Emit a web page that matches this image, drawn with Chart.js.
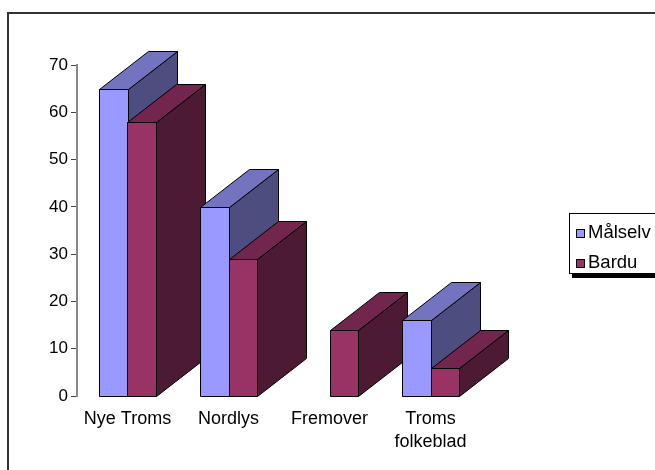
<!DOCTYPE html>
<html>
<head>
<meta charset="utf-8">
<script src="https://cdn.jsdelivr.net/npm/chart.js@4"></script>
<style>
  html, body { margin: 0; padding: 0; background: #fff; overflow: hidden; }
  #frame { position: absolute; left: 7px; top: 12px; width: 700px; height: 520px; border: 2px solid #333; box-sizing: border-box; }
  #chart { position: absolute; left: 0; top: 0; }
  #legend { position: absolute; left: 569px; top: 213px; width: 120px; height: 61px; border: 1px solid #000; background: #fff;
            box-shadow: 3px 4px 0 #000; font: 18.5px "Liberation Sans", Arial, sans-serif; color: #000; box-sizing: border-box; }
  .item { position: absolute; left: 6px; height: 20px; line-height: 20px; white-space: nowrap; }
  .sw { display: inline-block; width: 7px; height: 7px; border: 1px solid #000; margin-right: 3px; vertical-align: 0px; }
</style>
</head>
<body>
<div id="frame"></div>
<canvas id="chart" width="655" height="470"></canvas>
<div id="legend"></div>
<script>
// dados do gráfico
const categories = ['Nye Troms', 'Nordlys', 'Fremover', ['Troms', 'folkeblad']];
const seriesNames = ['Målselv', 'Bardu'];
const malselv = [65, 40, null, 16];
const bardu = [58, 29, 14, 6];
const yMax = 70;
const yStep = 10;

// cores: frente, topo, lado
const faces = [
  { front: '#9999ff', top: '#7373bf', side: '#4d4d80' },
  { front: '#993366', top: '#73264d', side: '#4d1a33' }
];
const depthX = 49;
const depthY = -38;

// desenha as barras em 3D por categoria, serie a serie
const bars3d = {
  id: 'bars3d',
  afterDatasetsDraw(chart) {
    const ctx = chart.ctx;
    ctx.save();
    ctx.strokeStyle = '#000';
    ctx.lineWidth = 1;
    const n = chart.data.labels.length;
    for (let j = 0; j < n; j++) {
      chart.data.datasets.forEach((ds, i) => {
        if (ds.data[j] == null) return;
        const el = chart.getDatasetMeta(i).data[j];
        const l = Math.round(el.x - el.width / 2) + 0.5;
        const r = Math.round(el.x + el.width / 2) + 0.5;
        const t = Math.round(el.y) + 0.5;
        const b = Math.round(el.base) + 0.5;
        const c = faces[i];
        // lado
        ctx.beginPath();
        ctx.moveTo(r, t); ctx.lineTo(r + depthX, t + depthY);
        ctx.lineTo(r + depthX, b + depthY); ctx.lineTo(r, b); ctx.closePath();
        ctx.fillStyle = c.side; ctx.fill(); ctx.stroke();
        // topo
        ctx.beginPath();
        ctx.moveTo(l, t); ctx.lineTo(l + depthX, t + depthY);
        ctx.lineTo(r + depthX, t + depthY); ctx.lineTo(r, t); ctx.closePath();
        ctx.fillStyle = c.top; ctx.fill(); ctx.stroke();
        // frente
        ctx.beginPath();
        ctx.rect(l, t, r - l, b - t);
        ctx.fillStyle = c.front; ctx.fill(); ctx.stroke();
      });
    }
    ctx.restore();
  }
};

const family = '"Liberation Sans", Arial, sans-serif';

new Chart(document.getElementById('chart'), {
  type: 'bar',
  data: {
    labels: categories,
    datasets: [{
      label: seriesNames[0],
      data: malselv,
      backgroundColor: 'rgba(0,0,0,0)',
      borderWidth: 0
    }, {
      label: seriesNames[1],
      data: bardu,
      backgroundColor: 'rgba(0,0,0,0)',
      borderWidth: 0
    }]
  },
  options: {
    responsive: false,
    animation: false,
    devicePixelRatio: 1,
    layout: { padding: { left: 0, top: 65, right: 174, bottom: 0 } },
    datasets: { bar: { categoryPercentage: 0.56, barPercentage: 1 } },
    plugins: { legend: { display: false }, tooltip: { enabled: false } },
    scales: {
      x: {
        grid: { display: false, drawTicks: false },
        border: { display: false },
        ticks: { color: '#000', font: { family: family, size: 18, lineHeight: 1.3 }, padding: 11, maxRotation: 0 },
        afterFit(scale) { scale.height = 74; }
      },
      y: {
        min: 0,
        max: yMax,
        ticks: { stepSize: yStep, color: '#000', font: { family: family, size: 17 }, padding: 3 },
        grid: { drawOnChartArea: false, tickLength: 6, color: '#444' },
        border: { color: '#888', width: 2 },
        afterFit(scale) { scale.width = 77; }
      }
    }
  },
  plugins: [bars3d]
});

// legenda
const legend = document.getElementById('legend');
seriesNames.forEach((name, i) => {
  const div = document.createElement('div');
  div.className = 'item';
  div.style.top = (i === 0 ? 8 : 38) + 'px';
  div.innerHTML = '<span class="sw" style="background:' + faces[i].front + '"></span>' + name;
  legend.appendChild(div);
});
</script>
</body>
</html>
